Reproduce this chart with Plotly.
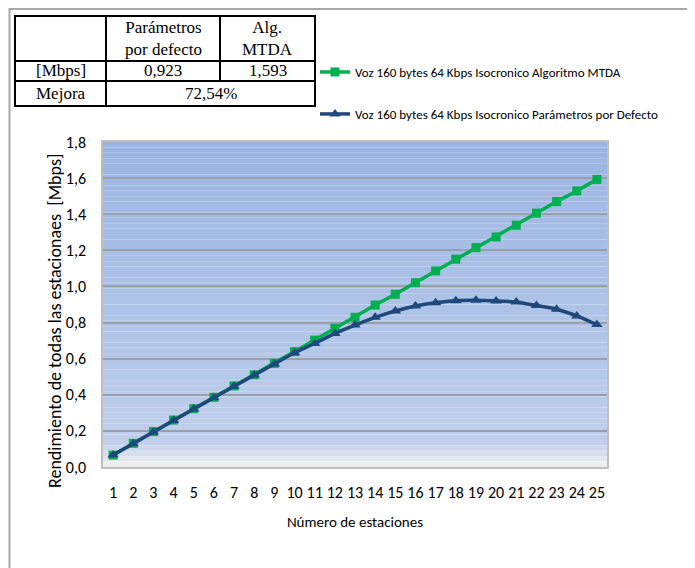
import plotly.graph_objects as go

# ---------------- data ----------------
stations = [str(i) for i in range(1, 26)]
mtda = [0.066, 0.131, 0.196, 0.260, 0.323, 0.386, 0.449, 0.511, 0.574, 0.639,
        0.703, 0.768, 0.829, 0.897, 0.957, 1.021, 1.086, 1.151, 1.215, 1.274,
        1.339, 1.406, 1.470, 1.529, 1.593]
defecto = [0.066, 0.129, 0.194, 0.258, 0.321, 0.384, 0.447, 0.509, 0.571, 0.633,
           0.684, 0.740, 0.786, 0.829, 0.864, 0.892, 0.910, 0.921, 0.923, 0.920,
           0.914, 0.894, 0.874, 0.837, 0.789]
name_mtda = "Voz 160 bytes 64 Kbps Isocronico Algoritmo MTDA"
name_def = "Voz 160 bytes 64 Kbps Isocronico Parámetros por Defecto"
table_header = ["", "Parámetros<br>por defecto", "Alg.<br>MTDA"]
table_row1 = ["[Mbps]", "0,923", "1,593"]
table_row2 = ["Mejora", "72,54%"]
y_title = "Rendimiento de todas las estacionaes  [Mbps]"
x_title = "Número de estaciones"

# ---------------- geometry (page pixels; page body has 8px margin) ----------------
OFF = 8
W, H = 695 - OFF, 568 - OFF
L, R, T, B = 103 - OFF, 607 - OFF, 142 - OFF, 467 - OFF
PW, PH = R - L, B - T


def px(x):
    return (x - OFF - L) / PW


def py(y):
    return (B - (y - OFF)) / PH


SANS = "Carlito, Lato, Open Sans, sans-serif"
SERIF = "Liberation Serif, Times New Roman, serif"

fig = go.Figure()
fig.add_trace(go.Scatter(
    x=stations, y=mtda, name=name_mtda, mode="lines+markers",
    line=dict(color="#00B050", width=3.5),
    marker=dict(symbol="square", size=9, color="#00B050"),
    legend="legend",
))
fig.add_trace(go.Scatter(
    x=stations, y=defecto, name=name_def, mode="lines+markers",
    line=dict(color="#1F497D", width=3.5, shape="spline", smoothing=0.5),
    marker=dict(symbol="triangle-up", size=10, color="#1F497D"),
    legend="legend2",
))

shapes = []
# gradient background for plot area
n = 60
top = (0x9B, 0xB5, 0xE2)
mid = (0xC0, 0xCF, 0xEC)
for i in range(n):
    f = i / (n - 1)  # 0 at top, 1 at bottom
    if f < 0.93:
        g = f / 0.93
        c = tuple(int(top[k] + (mid[k] - top[k]) * g) for k in range(3))
    else:
        g = (f - 0.93) / 0.07
        c = tuple(int(mid[k] + (0xEE - mid[k]) * g) for k in range(3))
    shapes.append(dict(type="rect", xref="paper", yref="paper", layer="below",
                       x0=0, x1=1, y0=1 - (i + 1) / n, y1=1 - i / n,
                       fillcolor="rgb(%d,%d,%d)" % c, line=dict(width=0)))

# outer frame
shapes.append(dict(type="rect", xref="paper", yref="paper",
                   x0=px(9.5), x1=px(720), y0=py(9), y1=py(600),
                   line=dict(color="#A6A6A6", width=2)))

# table
tx = [15, 106, 220, 315]
ty = [16, 61, 81, 106]
lw = dict(color="black", width=2)
shapes.append(dict(type="rect", xref="paper", yref="paper",
                   x0=px(tx[0]), x1=px(tx[3]), y0=py(ty[0]), y1=py(ty[3]), line=lw))
for yy in ty[1:3]:
    shapes.append(dict(type="line", xref="paper", yref="paper",
                       x0=px(tx[0]), x1=px(tx[3]), y0=py(yy), y1=py(yy), line=lw))
shapes.append(dict(type="line", xref="paper", yref="paper",
                   x0=px(tx[1]), x1=px(tx[1]), y0=py(ty[0]), y1=py(ty[3]), line=lw))
shapes.append(dict(type="line", xref="paper", yref="paper",
                   x0=px(tx[2]), x1=px(tx[2]), y0=py(ty[0]), y1=py(ty[2]), line=lw))

annotations = []
tfont = dict(family=SERIF, size=17, color="black")
for j in range(3):
    annotations.append(dict(xref="paper", yref="paper", x=px((tx[j] + tx[j + 1]) / 2),
                            y=py((ty[0] + ty[1]) / 2), text=table_header[j],
                            showarrow=False, font=tfont, xanchor="center", yanchor="middle"))
    annotations.append(dict(xref="paper", yref="paper", x=px((tx[j] + tx[j + 1]) / 2),
                            y=py((ty[1] + ty[2]) / 2), text=table_row1[j],
                            showarrow=False, font=tfont, xanchor="center", yanchor="middle"))
annotations.append(dict(xref="paper", yref="paper", x=px((tx[0] + tx[1]) / 2),
                        y=py((ty[2] + ty[3]) / 2), text=table_row2[0],
                        showarrow=False, font=tfont, xanchor="center", yanchor="middle"))
annotations.append(dict(xref="paper", yref="paper", x=px((tx[1] + tx[3]) / 2),
                        y=py((ty[2] + ty[3]) / 2), text=table_row2[1],
                        showarrow=False, font=tfont, xanchor="center", yanchor="middle"))
# y axis title
annotations.append(dict(xref="paper", yref="paper", x=px(55), y=py(321),
                        text=y_title, textangle=-90, showarrow=False,
                        font=dict(family=SANS, size=18, color="black"),
                        xanchor="center", yanchor="middle"))

legend_font = dict(family=SANS, size=13, color="black")
fig.update_layout(
    width=W, height=H,
    margin=dict(l=L, r=W - R, t=T, b=H - B, autoexpand=False),
    paper_bgcolor="white", plot_bgcolor="rgba(0,0,0,0)",
    separators=",.",
    font=dict(family=SANS, color="black"),
    shapes=shapes, annotations=annotations,
    showlegend=True,
    legend=dict(x=px(315), y=py(72), xanchor="left", yanchor="middle",
                font=legend_font, bgcolor="rgba(0,0,0,0)", itemwidth=30,
                tracegroupgap=0),
    legend2=dict(x=px(315), y=py(114), xanchor="left", yanchor="middle",
                 font=legend_font, bgcolor="rgba(0,0,0,0)", itemwidth=30,
                 tracegroupgap=0),
    xaxis=dict(type="category", range=[-0.5, 24.5], showgrid=False,
               showline=True, linecolor="#BFBFBF", linewidth=1.5, mirror=True,
               ticks="", tickfont=dict(family=SANS, size=16), ticklabelstandoff=10,
               title=dict(text=x_title, font=dict(family=SANS, size=15), standoff=16)),
    yaxis=dict(range=[0, 1.8], dtick=0.2, tickformat=".1f", showgrid=True,
               gridcolor="#9AA0A8", gridwidth=1.5, zeroline=False,
               showline=True, linecolor="#BFBFBF", linewidth=1.5, mirror=True,
               ticks="", tickfont=dict(family=SANS, size=16), ticklabelstandoff=12),
)

fig.write_html("out.html")
